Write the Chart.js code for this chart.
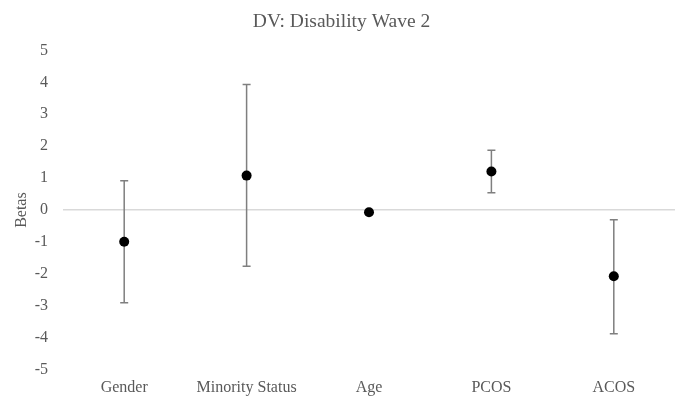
<!DOCTYPE html>
<html>
<head>
<meta charset="utf-8">
<script src="https://cdn.jsdelivr.net/npm/chart.js@4"></script>
<style>
  html, body { margin: 0; padding: 0; background: #fff; }
  #wrap { width: 682px; height: 397px; }
</style>
</head>
<body>
<div id="wrap"><canvas id="chart"></canvas></div>
<script>
const categories = ['Gender', 'Minority Status', 'Age', 'PCOS', 'ACOS'];
const betas = [-0.99, 1.08, -0.07, 1.21, -2.07];
const upperCI = [0.92, 3.93, -0.02, 1.87, -0.30];
const lowerCI = [-2.90, -1.76, -0.12, 0.54, -3.87];
const yTicks = [-5, -4, -3, -2, -1, 0, 1, 2, 3, 4, 5];

const textGrey = '#595959';
const serif = "'Liberation Serif', 'Times New Roman', serif";

// error bars drawn through the chart's own scales, under the points
const errorBars = {
    id: 'errorBars',
    beforeDatasetsDraw(chart) {
        const ctx = chart.ctx;
        const x = chart.scales.x;
        const y = chart.scales.y;
        ctx.save();
        ctx.strokeStyle = '#7f7f7f';
        ctx.lineWidth = 1.5;
        categories.forEach((c, i) => {
            const px = x.getPixelForValue(i);
            const top = y.getPixelForValue(upperCI[i]);
            const bot = y.getPixelForValue(lowerCI[i]);
            ctx.beginPath();
            ctx.moveTo(px, top);
            ctx.lineTo(px, bot);
            ctx.moveTo(px - 4, top);
            ctx.lineTo(px + 4, top);
            ctx.moveTo(px - 4, bot);
            ctx.lineTo(px + 4, bot);
            ctx.stroke();
        });
        ctx.restore();
    }
};

new Chart(document.getElementById('chart'), {
    type: 'line',
    data: {
        labels: categories,
        datasets: [{
            label: 'Betas',
            data: betas,
            showLine: false,
            pointRadius: 5,
            pointHoverRadius: 5,
            pointBackgroundColor: '#000',
            pointBorderColor: '#000',
            pointBorderWidth: 0
        }]
    },
    options: {
        responsive: true,
        maintainAspectRatio: false,
        animation: false,
        layout: { padding: { left: 8, right: 7, top: 0, bottom: 0 } },
        plugins: {
            legend: { display: false },
            tooltip: { enabled: false },
            title: {
                display: true,
                text: 'DV: Disability Wave 2',
                color: textGrey,
                font: { family: serif, size: 19.5, weight: 'normal' },
                padding: { top: 10, bottom: 17 }
            }
        },
        scales: {
            x: {
                offset: true,
                grid: { display: false },
                border: { display: false },
                ticks: {
                    color: textGrey,
                    font: { family: serif, size: 16 },
                    padding: 0
                }
            },
            y: {
                min: -5,
                max: 5,
                afterBuildTicks: axis => {
                    axis.ticks = yTicks.map(v => ({ value: v }));
                },
                // fixed axis width so the plot starts where the original does
                afterFit: axis => {
                    axis.width = 55;
                },
                border: { display: false },
                grid: {
                    drawTicks: false,
                    lineWidth: 1.5,
                    color: ctx => ctx.tick && ctx.tick.value === 0 ? '#d9d9d9' : 'rgba(0,0,0,0)'
                },
                ticks: {
                    color: textGrey,
                    font: { family: serif, size: 16 },
                    padding: 15
                },
                title: {
                    display: true,
                    text: 'Betas',
                    color: textGrey,
                    font: { family: serif, size: 16 },
                    padding: { top: 4, bottom: 3.5 }
                }
            }
        }
    },
    plugins: [errorBars]
});
</script>
</body>
</html>
